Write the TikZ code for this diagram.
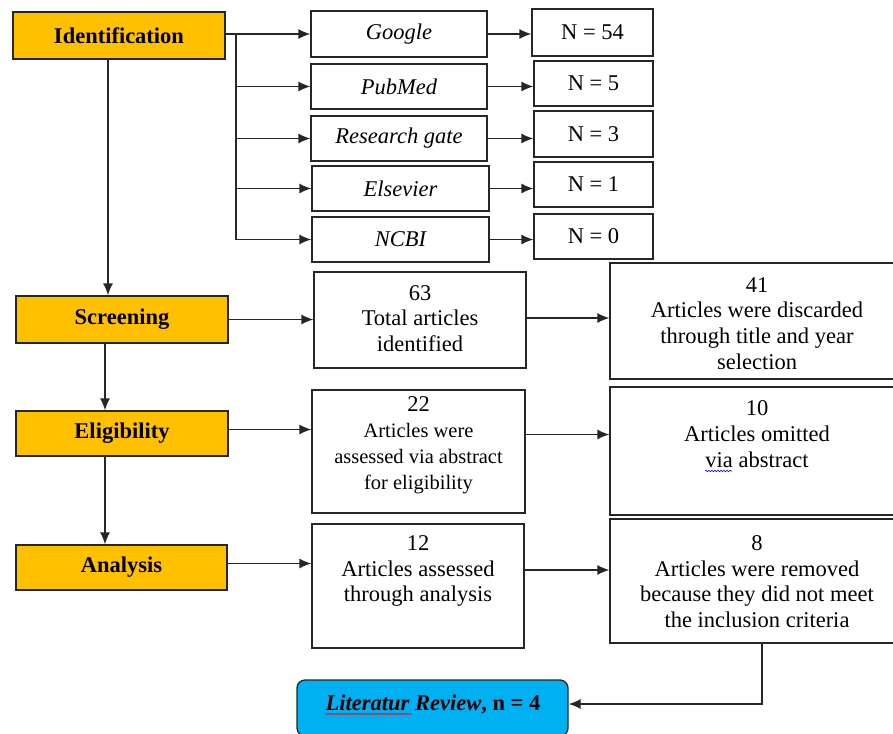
\documentclass[tikz,border=0pt]{standalone}
\usepackage{fontspec}
\setmainfont{Liberation Serif}
\usetikzlibrary{arrows.meta,decorations.pathmorphing}
\definecolor{stageorange}{HTML}{FFC000}
\definecolor{litblue}{HTML}{00B0F0}
\definecolor{edgegray}{HTML}{262626}
\tikzset{
  box/.style={draw=edgegray, line width=1.3pt, inner sep=0pt},
  stagebox/.style={box, fill=stageorange, font=\fontsize{22.5}{25.7}\selectfont\bfseries},
  dbbox/.style={box, font=\fontsize{22.5}{25.7}\selectfont\itshape},
  nbox/.style={box, font=\fontsize{22.5}{25.7}\selectfont},
  txt/.style={inner sep=0pt, align=center, font=\fontsize{22.5}{25.7}\selectfont},
  arr/.style={draw=edgegray, line width=1.3pt, -{Latex[length=12pt,width=10pt]}},
  ln/.style={draw=edgegray, line width=1.3pt},
  squig/.style={line width=0.6pt, decorate, decoration={snake, segment length=3pt, amplitude=0.8pt}}
}
\begin{document}
\begin{tikzpicture}[x=1pt,y=-1pt]
\useasboundingbox (0,0) rectangle (893,733);
% stage boxes
\node[stagebox, minimum width=212pt, minimum height=47pt] (ident) at (119,35.5) {Identification};
\node[stagebox, minimum width=212pt, minimum height=47pt] (screen) at (122,319.5) {Screening};
\node[stagebox, minimum width=212pt, minimum height=45pt] (elig) at (122,433.5) {Eligibility};
\node[stagebox, minimum width=211pt, minimum height=45pt] (anal) at (121.5,567.5) {Analysis};
% database boxes
\node[dbbox, minimum width=176pt, minimum height=46pt] (google) at (399,34) {Google};
\node[dbbox, minimum width=176pt, minimum height=45pt] (pubmed) at (399,86.5) {PubMed};
\node[dbbox, minimum width=176pt, minimum height=45pt] (rgate) at (399,138.5) {Research gate};
\node[dbbox, minimum width=177pt, minimum height=45pt] (elsev) at (400.5,188.5) {Elsevier};
\node[dbbox, minimum width=177pt, minimum height=45pt] (ncbi) at (400.5,239.5) {NCBI};
% count boxes
\node[nbox, minimum width=121pt, minimum height=47pt] (n54) at (592.5,32.5) {N = 54};
\node[nbox, minimum width=119pt, minimum height=45pt] (n5) at (593.5,83.5) {N = 5};
\node[nbox, minimum width=119pt, minimum height=46pt] (n3) at (593.5,134) {N = 3};
\node[nbox, minimum width=119pt, minimum height=45pt] (n1) at (593.5,184.5) {N = 1};
\node[nbox, minimum width=119pt, minimum height=45pt] (n0) at (593.5,236.5) {N = 0};
% step boxes
\node[box, minimum width=212pt, minimum height=96pt] (b63) at (420,320) {};
\node[box, minimum width=294pt, minimum height=116pt] (b41) at (757,321) {};
\node[box, minimum width=213pt, minimum height=123pt] (b22) at (418.5,451.5) {};
\node[box, minimum width=294pt, minimum height=128pt] (b10) at (757,451) {};
\node[box, minimum width=212pt, minimum height=124pt] (b12) at (418,586) {};
\node[box, minimum width=294pt, minimum height=124pt] (b8) at (757,581) {};
\node[box, fill=litblue, rounded corners=8pt, minimum width=271pt, minimum height=56pt] (lit) at (432.5,708) {};
% texts
\node[txt] (t63) at (420,318.5) {63\\Total articles\\identified};
\node[txt] (t41) at (757,323.5) {41\\Articles were discarded\\through title and year\\selection};
\node[txt, anchor=north] (t22) at (418.5,396) {22\\[1pt]{\fontsize{20.5}{24.5}\selectfont Articles were}\\{\fontsize{20.5}{24.5}\selectfont assessed via abstract}\\{\fontsize{20.5}{24.5}\selectfont for eligibility}};
\node[txt] (t10) at (757,434) {10\\Articles omitted\\via abstract};
\node[txt] (t12) at (418,571) {12\\Articles assessed\\through analysis};
\node[txt] (t8) at (757,581.5) {8\\Articles were removed\\because they did not meet\\the inclusion criteria};
\node[txt, font=\fontsize{22.5}{25.7}\selectfont\bfseries] (tlit) at (433,704) {\textit{Literatur Review}, n = 4};
% spell-check squiggles
\draw[squig, blue] (705,471) -- (732,471);
\draw[squig, red] (325,714) -- (412,714);
% connectors from identification
\coordinate (br) at (236,0);
\draw[arr] (ident.east |- google) -- (google.west);
\draw[ln] (br |- google) -- (br |- ncbi);
\draw[arr] (br |- pubmed) -- (pubmed.west);
\draw[arr] (br |- rgate) -- (rgate.west);
\draw[arr] (br |- elsev) -- (elsev.west);
\draw[arr] (br |- ncbi) -- (ncbi.west);
\draw[arr] (google.east) -- (google.east -| n54.west);
\draw[arr] (pubmed.east) -- (pubmed.east -| n5.west);
\draw[arr] (rgate.east) -- (rgate.east -| n3.west);
\draw[arr] (elsev.east) -- (elsev.east -| n1.west);
\draw[arr] (ncbi.east) -- (ncbi.east -| n0.west);
% vertical stage flow
\draw[arr] ([xshift=-11pt]ident.south) -- ([xshift=-11pt]ident.south |- screen.north);
\draw[arr] ([xshift=-17pt]screen.south) -- ([xshift=-17pt]screen.south |- elig.north);
\draw[arr] ([xshift=-17pt]elig.south) -- ([xshift=-17pt]elig.south |- anal.north);
% horizontal flows
\draw[arr] (screen.east) -- (screen.east -| b63.west);
\draw[arr] ([yshift=2pt]b63.east) -- ([yshift=2pt]b63.east -| b41.west);
\draw[arr] ([yshift=4pt]elig.east) -- ([yshift=4pt]elig.east -| b22.west);
\draw[arr] ([yshift=17pt]b22.east) -- ([yshift=17pt]b22.east -| b10.west);
\draw[arr] ([yshift=4pt]anal.east) -- ([yshift=4pt]anal.east -| b12.west);
\draw[arr] ([yshift=16pt]b12.east) -- ([yshift=16pt]b12.east -| b8.west);
\draw[arr] ([xshift=5pt]b8.south) |- ([yshift=4pt]lit.east);
\end{tikzpicture}
\end{document}
